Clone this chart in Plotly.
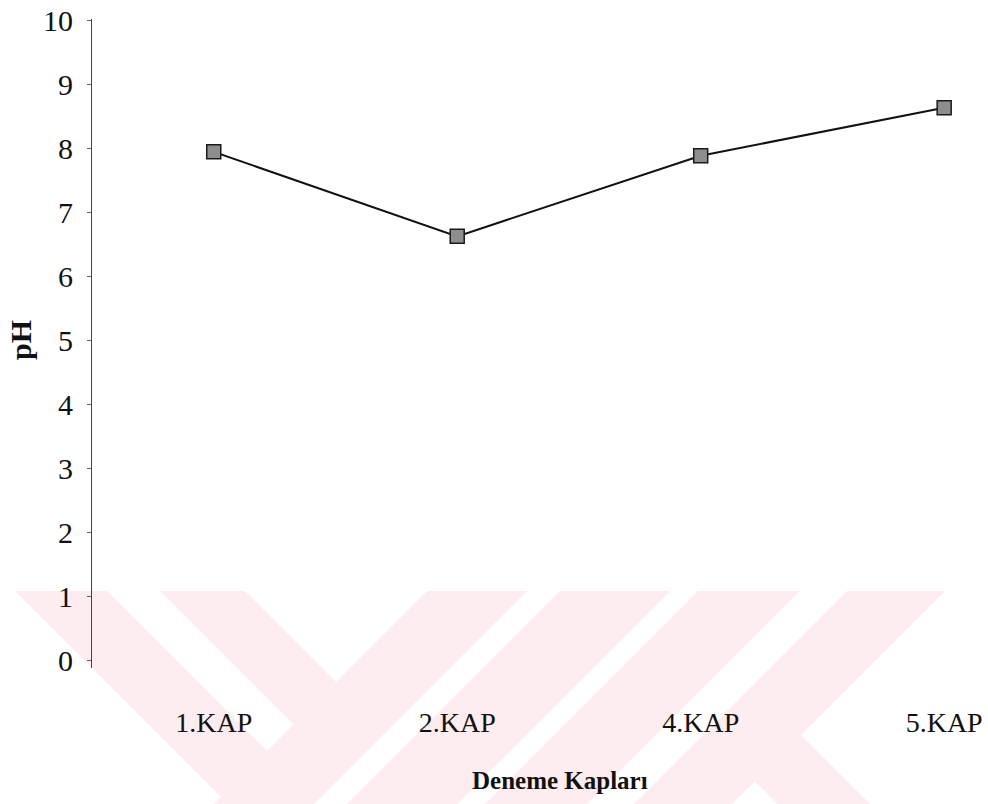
import plotly.graph_objects as go

# pH measured in each test container
containers = ["1.KAP", "2.KAP", "4.KAP", "5.KAP"]
ph_values = [7.94, 6.62, 7.88, 8.63]
y_ticks = list(range(0, 11))

W, H = 988, 804
ML, MR, MT, MB = 92, 0, 19, 136
PW, PH = W - ML - MR, H - MT - MB

SERIF = "Liberation Serif, Times New Roman, serif"

fig = go.Figure()
fig.add_trace(go.Scatter(
    x=containers, y=ph_values, mode="lines+markers",
    line=dict(color="#111111", width=2),
    marker=dict(symbol="square", size=14, color="#8e8e8e",
                line=dict(color="#1a1a1a", width=1.5)),
    showlegend=False,
))


def to_paper(pts):
    """Pixel-space polygon -> SVG path in paper coordinates."""
    parts = []
    for i, (px, py) in enumerate(pts):
        xp = (px - ML) / PW
        yp = (H - MB - py) / PH
        parts.append(("M" if i == 0 else "L") + f"{xp:.5f},{yp:.5f}")
    return " ".join(parts) + " Z"


# Pale background emblem: diagonal bands starting at y=591
TOP, LOW = 591, 900
D = LOW - TOP
back_bands = [
    [(15, TOP), (107, TOP), (267, 751), (221, 797)],
    [(160, TOP), (245, TOP), (336, 682), (293.5, 724.5)],
]
fwd_bands = [(427, 527), (560, 670), (698, 800), (847, 945)]
leg = [(801, 735), (966, LOW), (873, LOW), (754.5, 781.5)]

polys = list(back_bands)
for a, b in fwd_bands:
    polys.append([(a, TOP), (b, TOP), (b - D, LOW), (a - D, LOW)])
polys.append(leg)

shapes = [dict(type="path", xref="paper", yref="paper", path=to_paper(p),
               fillcolor="#fdecf0", line=dict(width=0), layer="below")
          for p in polys]

fig.update_layout(
    width=W, height=H,
    margin=dict(l=ML, r=MR, t=MT, b=MB, autoexpand=False),
    paper_bgcolor="white", plot_bgcolor="rgba(0,0,0,0)",
    shapes=shapes,
    font=dict(family=SERIF, color="#111111"),
    xaxis=dict(
        type="category", range=[-0.5, 3.18],
        showline=False, showgrid=False, zeroline=False, ticks="",
        tickfont=dict(family=SERIF, size=28, color="#111111"),
        ticklabelstandoff=35,
    ),
    yaxis=dict(
        range=[-0.125, 10.016], tick0=0, dtick=1, tickvals=y_ticks,
        showline=True, linecolor="#444444", linewidth=1,
        ticks="outside", ticklen=4, tickcolor="#666666",
        showgrid=False, zeroline=False,
        tickfont=dict(family=SERIF, size=30, color="#111111"),
        ticklabelstandoff=8,
    ),
    annotations=[
        dict(text="<b>pH</b>", xref="paper", yref="paper",
             x=(20 - ML) / PW, y=(H - MB - 340) / PH, textangle=-90,
             showarrow=False, xanchor="center", yanchor="middle",
             font=dict(family=SERIF, size=30, color="#111111")),
        dict(text="<b>Deneme Kapları</b>", xref="paper", yref="paper",
             x=(560 - ML) / PW, y=(H - MB - 780) / PH,
             showarrow=False, xanchor="center", yanchor="middle",
             font=dict(family=SERIF, size=25, color="#111111")),
    ],
)

fig.write_html("out.html")
